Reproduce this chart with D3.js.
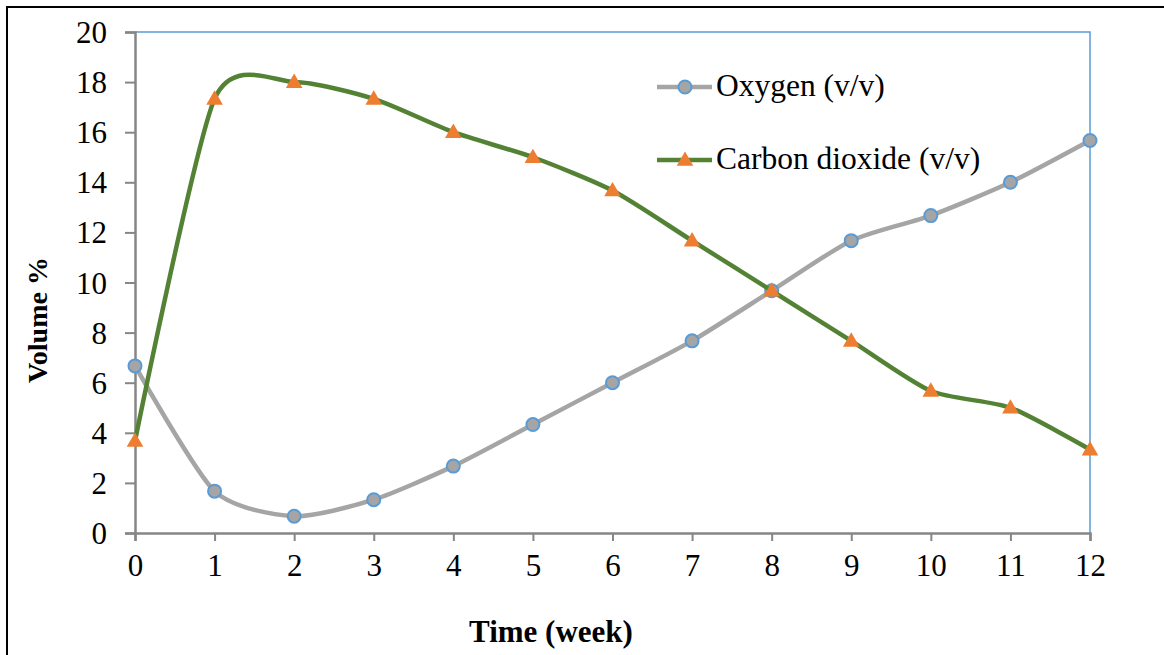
<!DOCTYPE html>
<html>
<head>
<meta charset="utf-8">
<script src="https://cdn.jsdelivr.net/npm/d3@7"></script>
<style>
  body { margin: 0; background: #fff; }
  text { font-family: "Liberation Serif", "Times New Roman", serif; fill: #000; }
</style>
</head>
<body>
<svg width="1164" height="655"></svg>
<script>
// data
var weeks = [0, 1, 2, 3, 4, 5, 6, 7, 8, 9, 10, 11, 12];
var oxygen = [6.67, 1.67, 0.67, 1.33, 2.67, 4.33, 6.0, 7.67, 9.67, 11.67, 12.67, 14.0, 15.67];
var carbonDioxide = [3.67, 17.33, 18.0, 17.33, 16.0, 15.0, 13.67, 11.67, 9.67, 7.67, 5.67, 5.0, 3.33];
var yTicks = [0, 2, 4, 6, 8, 10, 12, 14, 16, 18, 20];
var seriesNames = ["Oxygen (v/v)", "Carbon dioxide (v/v)"];

function drawChart() {
    var svg = d3.select("svg");

    // outer frame (runs off the right and bottom edge)
    svg.append("rect")
       .attr("x", 7).attr("y", 7)
       .attr("width", 1300).attr("height", 800)
       .attr("fill", "none")
       .attr("stroke", "#000")
       .attr("stroke-width", 2);

    var plotLeft = 135, plotRight = 1090, plotTop = 32, plotBottom = 533;

    var x = d3.scaleLinear().domain([0, 12]).range([plotLeft, plotRight]);
    var y = d3.scaleLinear().domain([0, 20]).range([plotBottom, plotTop]);

    // blue top / right border of plot area
    svg.append("path")
       .attr("d", "M" + plotLeft + "," + plotTop + "H" + plotRight + "V" + plotBottom)
       .attr("fill", "none")
       .attr("stroke", "#5B9BD5")
       .attr("stroke-width", 1.5);

    // axes
    var yAxis = svg.append("g")
       .attr("transform", "translate(" + plotLeft + ",0)")
       .call(d3.axisLeft(y).tickValues(yTicks).tickSize(10).tickPadding(18));

    var xAxis = svg.append("g")
       .attr("transform", "translate(0," + plotBottom + ")")
       .call(d3.axisBottom(x).tickValues(weeks).tickSize(8).tickPadding(13));

    [yAxis, xAxis].forEach(function(a) {
        a.select(".domain").attr("stroke", "#868686").attr("stroke-width", 2.5);
        a.selectAll(".tick line").attr("stroke", "#868686").attr("stroke-width", 2);
        a.selectAll(".tick text")
         .style("font-family", "'Liberation Serif', 'Times New Roman', serif")
         .style("font-size", "31px")
         .attr("fill", "#000");
    });
    yAxis.selectAll(".tick text").attr("dy", "0.34em");

    // axis titles
    svg.append("text")
       .attr("transform", "translate(47,320) rotate(-90)")
       .attr("text-anchor", "middle")
       .style("font-size", "28px")
       .style("font-weight", "bold")
       .text("Volume %");

    svg.append("text")
       .attr("x", 551).attr("y", 642)
       .attr("text-anchor", "middle")
       .style("font-size", "31px")
       .style("font-weight", "bold")
       .text("Time (week)");

    // smoothed lines like the spreadsheet ones
    var line = d3.line()
       .x(function(d, i) { return x(weeks[i]); })
       .y(function(d) { return y(d); })
       .curve(d3.curveCardinal.tension(0.3));

    var triangle = d3.symbol().type(d3.symbolTriangle).size(120);

    // oxygen
    svg.append("path")
       .attr("d", line(oxygen))
       .attr("fill", "none")
       .attr("stroke", "#A5A5A5")
       .attr("stroke-width", 4.5);

    svg.selectAll(".oxy")
       .data(oxygen)
       .enter().append("circle")
       .attr("class", "oxy")
       .attr("cx", function(d, i) { return x(weeks[i]); })
       .attr("cy", function(d) { return y(d); })
       .attr("r", 6.5)
       .attr("fill", "#A5A5A5")
       .attr("stroke", "#5B9BD5")
       .attr("stroke-width", 2);

    // carbon dioxide
    svg.append("path")
       .attr("d", line(carbonDioxide))
       .attr("fill", "none")
       .attr("stroke", "#548235")
       .attr("stroke-width", 4.5);

    svg.selectAll(".co2")
       .data(carbonDioxide)
       .enter().append("path")
       .attr("class", "co2")
       .attr("transform", function(d, i) { return "translate(" + x(weeks[i]) + "," + (y(d) + 1) + ")"; })
       .attr("d", triangle)
       .attr("fill", "#ED7D31");

    // legend
    var legend = svg.append("g");
    var legendY = [87, 160];

    legendY.forEach(function(ly, i) {
        legend.append("line")
           .attr("x1", 657).attr("x2", 712)
           .attr("y1", ly).attr("y2", ly)
           .attr("stroke", i == 0 ? "#A5A5A5" : "#548235")
           .attr("stroke-width", 4.5);
        legend.append("text")
           .attr("x", 716).attr("y", ly + 9)
           .style("font-size", "31.5px")
           .text(seriesNames[i]);
    });

    legend.append("circle")
       .attr("cx", 685).attr("cy", legendY[0])
       .attr("r", 6.5)
       .attr("fill", "#A5A5A5")
       .attr("stroke", "#5B9BD5")
       .attr("stroke-width", 2);

    legend.append("path")
       .attr("transform", "translate(685," + (legendY[1] + 1) + ")")
       .attr("d", triangle)
       .attr("fill", "#ED7D31");
}

drawChart();
</script>
</body>
</html>
